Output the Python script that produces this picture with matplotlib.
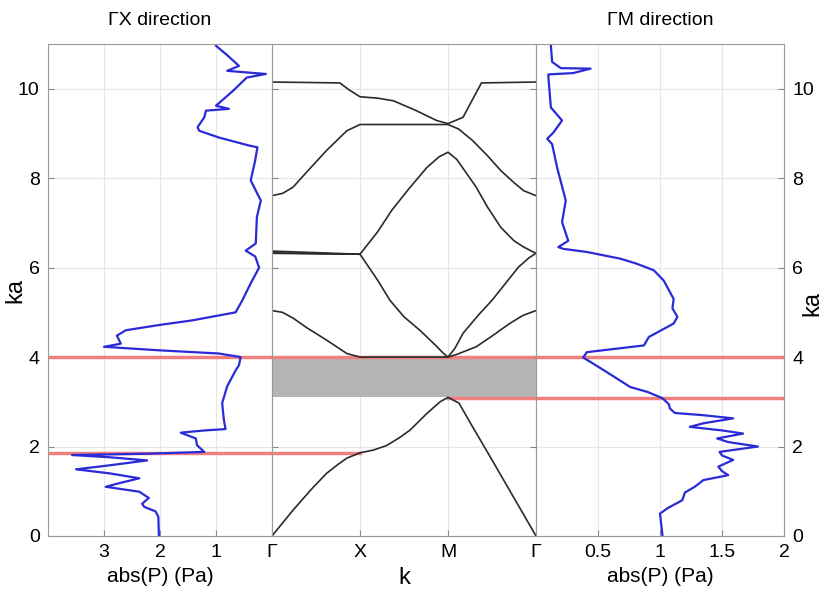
import matplotlib
matplotlib.use('Agg')
import matplotlib.pyplot as plt

plt.rcParams['font.family'] = ['Liberation Sans', 'DejaVu Sans']

# pressure amplitude along Gamma-X (abs(P), ka)
gx_p = [2.02, 2.03, 2.08, 2.28, 2.32, 2.2, 2.37, 2.97, 2.73, 2.37, 2.9, 3.5, 2.9, 2.23, 2.9,
        3.57, 2.2, 1.21, 1.34, 1.36, 1.63, 1.2, 0.83, 0.86, 0.89, 0.8, 0.65, 0.59, 0.56, 0.95,
        2.0, 3.0, 2.7, 2.77, 2.61, 2.0, 1.43, 0.65, 0.53, 0.38, 0.23, 0.3, 0.47, 0.29, 0.27,
        0.2, 0.38, 0.3, 0.26, 0.41, 0.95, 1.3, 1.33, 1.21, 1.18, 0.77, 1.0, 0.7, 0.45, 0.11,
        0.8, 0.59, 0.8, 1.0]
gx_ka = [0.0, 0.43, 0.55, 0.65, 0.72, 0.85, 0.99, 1.1, 1.18, 1.29, 1.4, 1.49, 1.58, 1.69, 1.76,
         1.81, 1.84, 1.88, 2.03, 2.18, 2.31, 2.36, 2.39, 2.6, 2.97, 3.35, 3.7, 3.82, 4.0, 4.08,
         4.15, 4.23, 4.3, 4.48, 4.6, 4.72, 4.82, 5.0, 5.27, 5.65, 6.0, 6.25, 6.38, 6.54, 7.13,
         7.5, 7.95, 8.4, 8.69, 8.73, 8.91, 9.06, 9.14, 9.36, 9.51, 9.55, 9.62, 9.95, 10.25, 10.33,
         10.4, 10.51, 10.75, 10.96]

# pressure amplitude along Gamma-M
gm_p = [1.02, 1.0, 1.06, 1.18, 1.2, 1.28, 1.35, 1.55, 1.5, 1.47, 1.59, 1.5, 1.48, 1.79, 1.55,
        1.46, 1.67, 1.5, 1.24, 1.35, 1.59, 1.35, 1.12, 1.08, 1.07, 1.02, 0.9, 0.76, 0.63, 0.55,
        0.44, 0.38, 0.41, 0.87, 0.91, 1.11, 1.14, 1.1, 1.11, 1.03, 0.95, 0.81, 0.68, 0.41, 0.22,
        0.18, 0.26, 0.21, 0.24, 0.17, 0.13, 0.09, 0.14, 0.21, 0.12, 0.1, 0.1, 0.3, 0.44, 0.2,
        0.13, 0.12]
gm_ka = [0.0, 0.5, 0.62, 0.8, 0.97, 1.1, 1.25, 1.36, 1.45, 1.55, 1.7, 1.8, 1.88, 2.0, 2.1,
         2.18, 2.29, 2.36, 2.44, 2.52, 2.63, 2.7, 2.75, 2.85, 2.95, 3.08, 3.22, 3.33, 3.56, 3.7,
         3.89, 3.99, 4.11, 4.26, 4.45, 4.75, 4.9, 5.09, 5.3, 5.71, 5.94, 6.09, 6.2, 6.35, 6.42,
         6.46, 6.6, 7.02, 7.5, 8.24, 8.76, 8.88, 9.02, 9.29, 9.58, 10.25, 10.32, 10.35, 10.45, 10.46,
         10.6, 10.96]

# band structure, k path Gamma-X-M-Gamma mapped to 0..3
band_k = [
    [0, 0.24, 0.45, 0.62, 0.75, 0.85, 1.0, 1.15, 1.3, 1.45, 1.57, 1.76, 1.91, 2.0, 2.125, 2.25, 2.5, 2.75, 3.0],
    [0, 0.12, 0.24, 0.4, 0.62, 0.85, 1.0, 2.0, 2.1, 2.32, 2.5, 2.7, 2.85, 3.0],
    [0, 1.0, 1.2, 1.34, 1.5, 1.68, 1.85, 1.95, 2.0, 2.08, 2.17, 2.35, 2.5, 2.65, 2.8, 2.92, 3.0],
    [0, 1.0, 1.2, 1.36, 1.55, 1.76, 1.9, 2.0, 2.1, 2.32, 2.45, 2.6, 2.75, 2.86, 3.0],
    [0, 0.12, 0.24, 0.4, 0.62, 0.85, 1.0, 2.0, 2.12, 2.28, 2.45, 2.6, 2.75, 2.86, 3.0],
    [0, 0.77, 0.88, 1.0, 1.2, 1.38, 1.64, 1.87, 2.0, 2.17, 2.38, 3.0],
]
band_ka = [
    [0, 0.58, 1.05, 1.4, 1.6, 1.74, 1.86, 1.92, 2.02, 2.2, 2.37, 2.74, 3.0, 3.1, 2.97, 2.54, 1.7, 0.85, 0],
    [5.04, 5.0, 4.87, 4.65, 4.38, 4.08, 4.0, 4.0, 4.06, 4.23, 4.47, 4.75, 4.93, 5.04],
    [6.32, 6.3, 5.72, 5.27, 4.9, 4.6, 4.28, 4.08, 4.0, 4.2, 4.53, 4.95, 5.27, 5.64, 6.01, 6.22, 6.32],
    [6.37, 6.3, 6.8, 7.28, 7.75, 8.24, 8.48, 8.58, 8.42, 7.8, 7.35, 6.9, 6.6, 6.46, 6.32],
    [7.61, 7.66, 7.8, 8.15, 8.62, 9.06, 9.2, 9.2, 9.1, 8.84, 8.5, 8.17, 7.9, 7.72, 7.61],
    [10.15, 10.13, 9.97, 9.82, 9.79, 9.73, 9.51, 9.29, 9.22, 9.36, 10.13, 10.15],
]
k_ticks = [0, 1, 2, 3]
k_labels = ['Γ', 'X', 'M', 'Γ']

gap_lo, gap_hi = 3.1, 3.97
red_gx = [1.85, 4.0]
red_gm = [3.08, 4.0]

blue = '#2a2ad8'
red = '#ee8080'
fs = 14

fig = plt.figure(figsize=(8.24, 6.07), dpi=100)
ax1 = fig.add_axes([0.0583, 0.117, 0.2718, 0.8105])
ax2 = fig.add_axes([0.3301, 0.117, 0.3204, 0.8105])
ax3 = fig.add_axes([0.6505, 0.117, 0.3010, 0.8105])

for ax in (ax1, ax2, ax3):
    ax.set_ylim(0, 11)
    ax.set_yticks([0, 2, 4, 6, 8, 10])
    ax.grid(True, color='#e6e6e6', lw=0.8)
    ax.set_axisbelow(True)
    for s in ax.spines.values():
        s.set_color('#9a9a9a')
    ax.tick_params(direction='in', length=4, color='#888888', labelsize=fs, pad=6)

# left panel
for y in red_gx:
    ax1.axhline(y, color=red, lw=2.5)
ax1.plot(gx_p, gx_ka, color=blue, lw=1.6)
ax1.set_xlim(4, 0)
ax1.set_xticks([3, 2, 1])
ax1.set_xlabel('abs(P) (Pa)', fontsize=fs + 1)
ax1.set_title('ΓX direction', fontsize=fs, pad=14)
fig.text(15 / 824, 0.522, 'ka', rotation=90, fontsize=fs + 3, va='center', ha='center')

# middle panel
ax2.fill_between([0, 3], gap_lo, gap_hi, color='#b4b4b4', lw=0)
ax2.plot([0, 3], [4.0, 4.0], color=red, lw=2.5)
ax2.plot([0, 1], [red_gx[0], red_gx[0]], color=red, lw=2.5)
ax2.plot([2, 3], [red_gm[0], red_gm[0]], color=red, lw=2.5)
for kk, bb in zip(band_k, band_ka):
    ax2.plot(kk, bb, color='#2a2a2a', lw=1.2)
ax2.plot([0, 1], [6.33, 6.3], color='#2a2a2a', lw=1.2)
ax2.set_xlim(0, 3)
ax2.set_xticks(k_ticks)
ax2.set_xticklabels(k_labels)
ax2.tick_params(axis='y', labelleft=False, right=True)
ax2.set_xlabel('k', fontsize=fs + 3)

# right panel
for y in red_gm:
    ax3.axhline(y, color=red, lw=2.5)
ax3.plot(gm_p, gm_ka, color=blue, lw=1.6)
ax3.set_xlim(0, 2)
ax3.set_xticks([0.5, 1, 1.5, 2])
ax3.set_xticklabels(['0.5', '1', '1.5', '2'])
ax3.yaxis.tick_right()
ax3.set_xlabel('abs(P) (Pa)', fontsize=fs + 1)
ax3.set_title('ΓM direction', fontsize=fs, pad=14)
fig.text(0.986, 0.5, 'ka', rotation=90, fontsize=fs + 3, va='center', ha='center')

fig.savefig('out.png', dpi=100)
